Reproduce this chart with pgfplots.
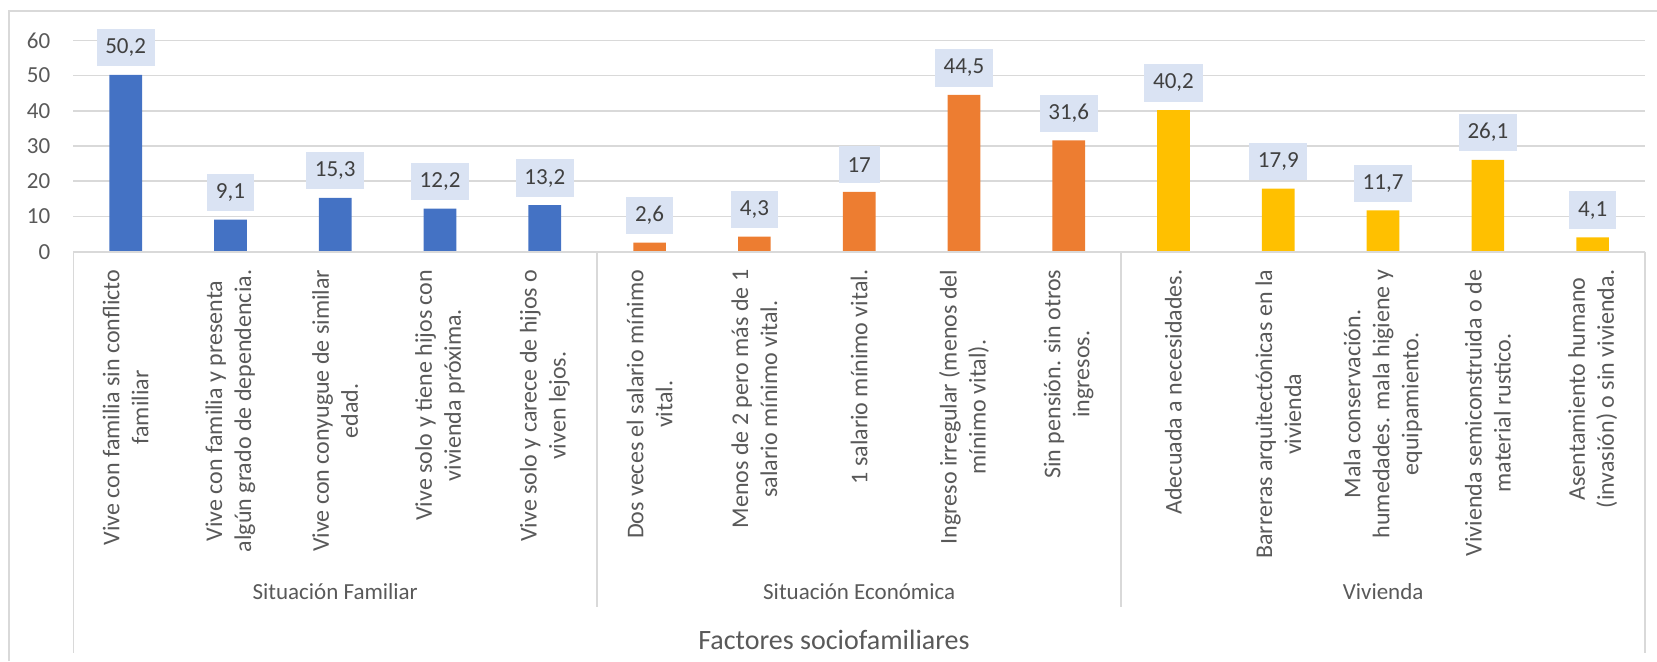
\documentclass[border=0pt]{standalone}
\usepackage{pgfplots}
\pgfplotsset{compat=1.18}
\usepackage{fontspec}
\setmainfont{Carlito}
\definecolor{cblue}{HTML}{4472C4}
\definecolor{corange}{HTML}{ED7D31}
\definecolor{cgold}{HTML}{FFC000}
\definecolor{lblbg}{HTML}{DAE3F3}
\definecolor{txt}{HTML}{595959}
\definecolor{lbltxt}{HTML}{404040}
\definecolor{gridc}{HTML}{D9D9D9}
\begin{document}
\begin{tikzpicture}
\useasboundingbox (0,0) rectangle (828.5pt,-330.5pt);
\begin{scope}[x=0.5pt, y=-0.5pt]
\draw[gridc, line width=0.8pt] (9,661) -- (9,11) -- (1657,11);
\end{scope}
\begin{axis}[
  at={(36.65pt,-125.85pt)}, anchor=south west,
  scale only axis, width=785.85pt, height=105.7pt,
  xmin=-0.5, xmax=14.5, ymin=0, ymax=60,
  ytick={0,10,20,30,40,50,60},
  xtick={0,...,14},
  xticklabels={
    {Vive con familia sin conflicto\\familiar},
    {Vive con familia y presenta\\algún grado de dependencia.},
    {Vive con conyugue de similar\\edad.},
    {Vive solo y tiene hijos con\\vivienda próxima.},
    {Vive solo y carece de hijos o\\viven lejos.},
    {Dos veces el salario mínimo\\vital.},
    {Menos de 2 pero más de 1\\salario mínimo vital.},
    {1 salario mínimo vital.},
    {Ingreso irregular (menos del\\mínimo vital).},
    {Sin pensión. sin otros\\ingresos.},
    {Adecuada a necesidades.},
    {Barreras arquitectónicas en la\\vivienda},
    {Mala conservación.\\humedades. mala higiene y\\equipamiento.},
    {Vivienda semiconstruida o de\\material rustico.},
    {Asentamiento humano\\(invasión) o sin vivienda.}},
  xticklabel shift=5.5pt,
  xticklabel style={rotate=90, anchor=east, align=center, text=txt, font=\fontsize{12}{14.5}\selectfont},
  yticklabel style={text=txt, font=\fontsize{11.5}{14}\selectfont, xshift=-8pt},
  /pgf/number format/assume math mode=true,
  major tick length=0pt,
  axis line style={draw=none},
  ymajorgrids, grid style={gridc, line width=0.8pt},
  ybar, bar width=16.35pt,
  nodes near coords,
  /pgf/number format/use comma,
  every node near coord/.append style={fill=lblbg, text=lbltxt, font=\fontsize{11.5}{13}\selectfont, inner xsep=4.4pt, inner ysep=0pt, minimum height=18.7pt, anchor=south, yshift=4pt},
  clip=false,
]
\addplot[fill=cblue, draw=none, bar shift=0pt] coordinates {(0,50.2) (1,9.1) (2,15.3) (3,12.2) (4,13.2)};
\addplot[fill=corange, draw=none, bar shift=0pt] coordinates {(5,2.6) (6,4.3) (7,17) (8,44.5) (9,31.6)};
\addplot[fill=cgold, draw=none, bar shift=0pt] coordinates {(10,40.2) (11,17.9) (12,11.7) (13,26.1) (14,4.1)};
\end{axis}
\begin{scope}[x=0.5pt, y=-0.5pt]
\draw[gridc, line width=0.8pt] (73.3,251.7) -- (1645,251.7);
\draw[gridc, line width=0.8pt] (73.3,251.7) -- (73.3,653);
\draw[gridc, line width=0.8pt] (1645,251.7) -- (1645,653);
\draw[gridc, line width=0.8pt] (597.2,251.7) -- (597.2,607);
\draw[gridc, line width=0.8pt] (1121.1,251.7) -- (1121.1,607);
\node[text=txt, font=\fontsize{11.5}{14}\selectfont] at (335.2,592) {Situación Familiar};
\node[text=txt, font=\fontsize{11.5}{14}\selectfont] at (859.2,592) {Situación Económica};
\node[text=txt, font=\fontsize{11.5}{14}\selectfont] at (1383.1,592) {Vivienda};
\node[text=txt, font=\fontsize{14}{17}\selectfont] at (834,640) {Factores sociofamiliares};
\end{scope}
\end{tikzpicture}
\end{document}
